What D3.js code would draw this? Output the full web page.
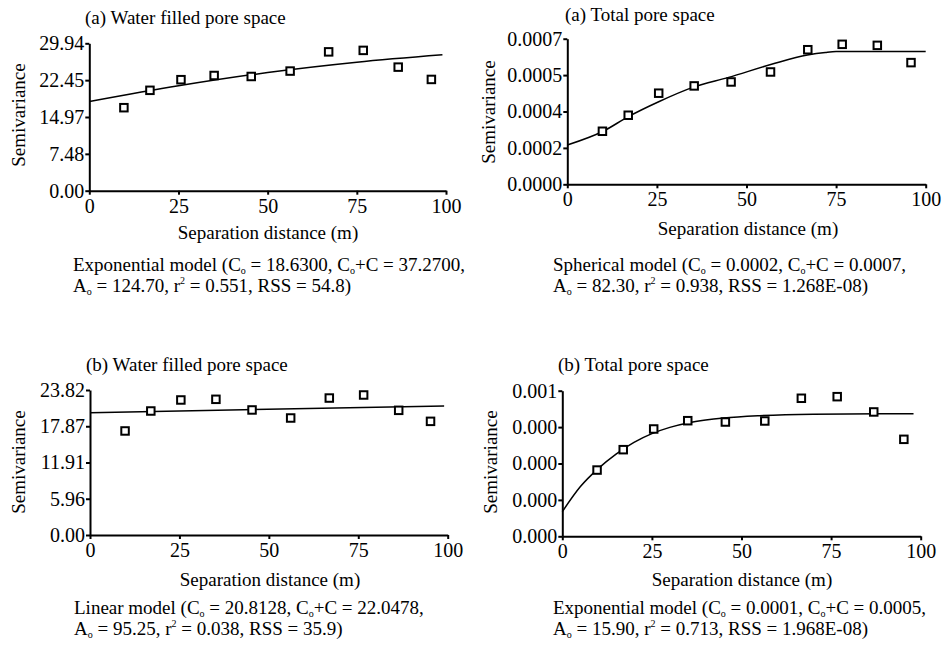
<!DOCTYPE html>
<html>
<head>
<meta charset="utf-8">
<script src="https://cdn.jsdelivr.net/npm/d3@7"></script>
<style>
  html, body { margin: 0; padding: 0; background: #fff; }
  svg { display: block; }
  text { font-family: "Liberation Serif", "Times New Roman", serif; fill: #000; }
</style>
</head>
<body>
<script>
// Lag distances (m) and experimental semivariances for each variogram
const lagA_wfps = [9.7, 17.0, 25.7, 35.0, 45.4, 56.3, 67.1, 76.8, 86.6, 95.9];
const semA_wfps = [16.86, 20.39, 22.55, 23.4, 23.2, 24.3, 28.2, 28.5, 25.1, 22.6];

const lagA_tps = [9.8, 17.0, 25.5, 35.4, 45.7, 56.7, 67.1, 76.7, 86.5, 95.9];
const semA_tps = [0.000255, 0.000332, 0.000438, 0.000473, 0.000492, 0.00054, 0.000647, 0.000673, 0.000668, 0.000585];

const lagB_wfps = [9.8, 17.0, 25.4, 35.2, 45.3, 56.1, 66.9, 76.5, 86.3, 95.2];
const semB_wfps = [17.09, 20.37, 22.18, 22.29, 20.54, 19.22, 22.5, 23.0, 20.48, 18.67];

const lagB_tps = [9.7, 17.0, 25.5, 35.0, 45.5, 56.5, 66.7, 76.7, 86.9, 95.3];
const semB_tps = [0.000455, 0.000595, 0.000737, 0.000794, 0.000785, 0.000792, 0.000948, 0.000959, 0.000854, 0.000666];

// Fitted model curves (distance, semivariance)
const fitA_wfps_x = [0, 25, 50, 75, 99];
const fitA_wfps_y = [18.1, 21.3, 24.0, 26.1, 27.6];

const fitA_tps_x = [0, 10, 17, 25.5, 35, 45, 57, 67, 72, 75, 100];
const fitA_tps_y = [0.000189, 0.000255, 0.000325, 0.000397, 0.000466, 0.000514, 0.000577, 0.000622, 0.000634, 0.000638, 0.000638];

const fitB_wfps_x = [0, 99];
const fitB_wfps_y = [20.1, 21.2];

const fitB_tps_x = [0, 5, 10, 15, 20, 25, 30, 35, 40, 45, 55, 70, 98];
const fitB_tps_y = [0.000169, 0.00034, 0.000465, 0.000565, 0.000645, 0.000705, 0.000748, 0.000778, 0.000798, 0.000812, 0.000828, 0.000838, 0.000842];

// Axis ticks
const xTicks = [0, 25, 50, 75, 100];
const yTicksA_wfps = [0, 7.485, 14.97, 22.455, 29.94];
const yLabelsA_wfps = ["0.00", "7.48", "14.97", "22.45", "29.94"];
const yTicksA_tps = [0, 0.000175, 0.00035, 0.000525, 0.0007];
const yLabelsA_tps = ["0.0000", "0.0002", "0.0004", "0.0005", "0.0007"];
const yTicksB_wfps = [0, 5.955, 11.91, 17.865, 23.82];
const yLabelsB_wfps = ["0.00", "5.96", "11.91", "17.87", "23.82"];
const yTicksB_tps = [0, 0.00025, 0.0005, 0.00075, 0.001];
const yLabelsB_tps = ["0.000", "0.000", "0.000", "0.000", "0.001"];

// Panel titles and model captions ("_o" = subscript o, "^2" = superscript 2)
const titles = ["(a) Water filled pore space", "(a) Total pore space", "(b) Water filled pore space", "(b) Total pore space"];
const captions = [
  ["Exponential model (C_o = 18.6300, C_o+C = 37.2700,", "A_o = 124.70, r^2 = 0.551, RSS = 54.8)"],
  ["Spherical model (C_o = 0.0002, C_o+C = 0.0007,", "A_o = 82.30, r^2 = 0.938, RSS = 1.268E-08)"],
  ["Linear model (C_o = 20.8128, C_o+C = 22.0478,", "A_o = 95.25, r^2 = 0.038, RSS = 35.9)"],
  ["Exponential model (C_o = 0.0001, C_o+C = 0.0005,", "A_o = 15.90, r^2 = 0.713, RSS = 1.968E-08)"]
];
const xTitle = "Separation distance (m)";
const yTitle = "Semivariance";

const W = 943, H = 654;
const svg = d3.select("body").append("svg").attr("width", W).attr("height", H);

const panels = [
  { lag: lagA_wfps, sem: semA_wfps, fx: fitA_wfps_x, fy: fitA_wfps_y, yt: yTicksA_wfps, yl: yLabelsA_wfps,
    box: { l: 89.3, r: 446, b: 190.7, t: 43.3 }, title: { x: 85, y: 24 }, yTitle: { x: 25, y: 115 },
    xTitle: { x: 268, y: 239 }, cap: { x: 73, y: 271 } },
  { lag: lagA_tps, sem: semA_tps, fx: fitA_tps_x, fy: fitA_tps_y, yt: yTicksA_tps, yl: yLabelsA_tps,
    box: { l: 567.3, r: 925.7, b: 184.3, t: 38.7 }, title: { x: 565, y: 21 }, yTitle: { x: 495, y: 112 },
    xTitle: { x: 748, y: 235 }, cap: { x: 553, y: 271 } },
  { lag: lagB_wfps, sem: semB_wfps, fx: fitB_wfps_x, fy: fitB_wfps_y, yt: yTicksB_wfps, yl: yLabelsB_wfps,
    box: { l: 90, r: 447.7, b: 535, t: 390 }, title: { x: 86, y: 371 }, yTitle: { x: 25, y: 462 },
    xTitle: { x: 270, y: 586 }, cap: { x: 74, y: 614 } },
  { lag: lagB_tps, sem: semB_tps, fx: fitB_tps_x, fy: fitB_tps_y, yt: yTicksB_tps, yl: yLabelsB_tps,
    box: { l: 562.3, r: 920.7, b: 536.3, t: 390.7 }, title: { x: 558, y: 371 }, yTitle: { x: 497, y: 462 },
    xTitle: { x: 742, y: 586 }, cap: { x: 553, y: 614 } }
];

function addRichText(sel, str) {
  // Splits a caption line into plain runs, subscripts and superscripts;
  // the baseline offset of a small run is undone on the following run.
  const parts = str.split(/(_o|\^2)/).filter(p => p.length);
  let pending = 0;
  parts.forEach(p => {
    if (p === "_o") {
      sel.append("tspan").attr("font-size", 10).attr("dy", pending + 3).text("o");
      pending = -3;
    } else if (p === "^2") {
      sel.append("tspan").attr("font-size", 10).attr("dy", pending - 8).text("2");
      pending = 8;
    } else {
      const t = sel.append("tspan").text(p);
      if (pending) t.attr("dy", pending);
      pending = 0;
    }
  });
}

panels.forEach((p, i) => {
  const g = svg.append("g");
  const x = d3.scaleLinear().domain([0, 100]).range([p.box.l, p.box.r]);
  const y = d3.scaleLinear().domain([0, p.yt[p.yt.length - 1]]).range([p.box.b, p.box.t]);

  const xAxis = d3.axisBottom(x).tickValues(xTicks).tickFormat(d3.format("d"))
    .tickSize(4).tickSizeOuter(0).tickPadding(4);
  const yAxis = d3.axisLeft(y).tickValues(p.yt).tickFormat((d, k) => p.yl[k])
    .tickSize(4).tickSizeOuter(0).tickPadding(1);

  const gx = g.append("g").attr("transform", `translate(0,${p.box.b})`).call(xAxis);
  const gy = g.append("g").attr("transform", `translate(${p.box.l},0)`).call(yAxis);
  [gx, gy].forEach(a => {
    a.selectAll("path, line").attr("stroke", "#000").attr("stroke-width", 2);
    a.selectAll("text").attr("font-size", 20).attr("fill", "#000");
  });

  // Fitted model curve
  const line = d3.line().x((d, k) => x(p.fx[k])).y((d, k) => y(p.fy[k])).curve(d3.curveMonotoneX);
  g.append("path").datum(p.fx).attr("d", line)
    .attr("fill", "none").attr("stroke", "#000").attr("stroke-width", 1.5);

  // Experimental semivariance markers
  const s = 7.5;
  g.selectAll("rect.pt").data(p.lag).join("rect").attr("class", "pt")
    .attr("x", (d) => x(d) - s / 2).attr("y", (d, k) => y(p.sem[k]) - s / 2)
    .attr("width", s).attr("height", s)
    .attr("fill", "#fff").attr("stroke", "#000").attr("stroke-width", 2);

  // Titles and axis labels
  g.append("text").attr("x", p.title.x).attr("y", p.title.y).attr("font-size", 19).text(titles[i]);
  g.append("text").attr("x", p.xTitle.x).attr("y", p.xTitle.y).attr("font-size", 19)
    .attr("text-anchor", "middle").text(xTitle);
  g.append("text").attr("transform", `translate(${p.yTitle.x},${p.yTitle.y}) rotate(-90)`)
    .attr("font-size", 19).attr("text-anchor", "middle").text(yTitle);

  // Model caption
  captions[i].forEach((ln, k) => {
    const t = g.append("text").attr("x", p.cap.x).attr("y", p.cap.y + k * 20.5).attr("font-size", 19);
    addRichText(t, ln);
  });
});
</script>
</body>
</html>
